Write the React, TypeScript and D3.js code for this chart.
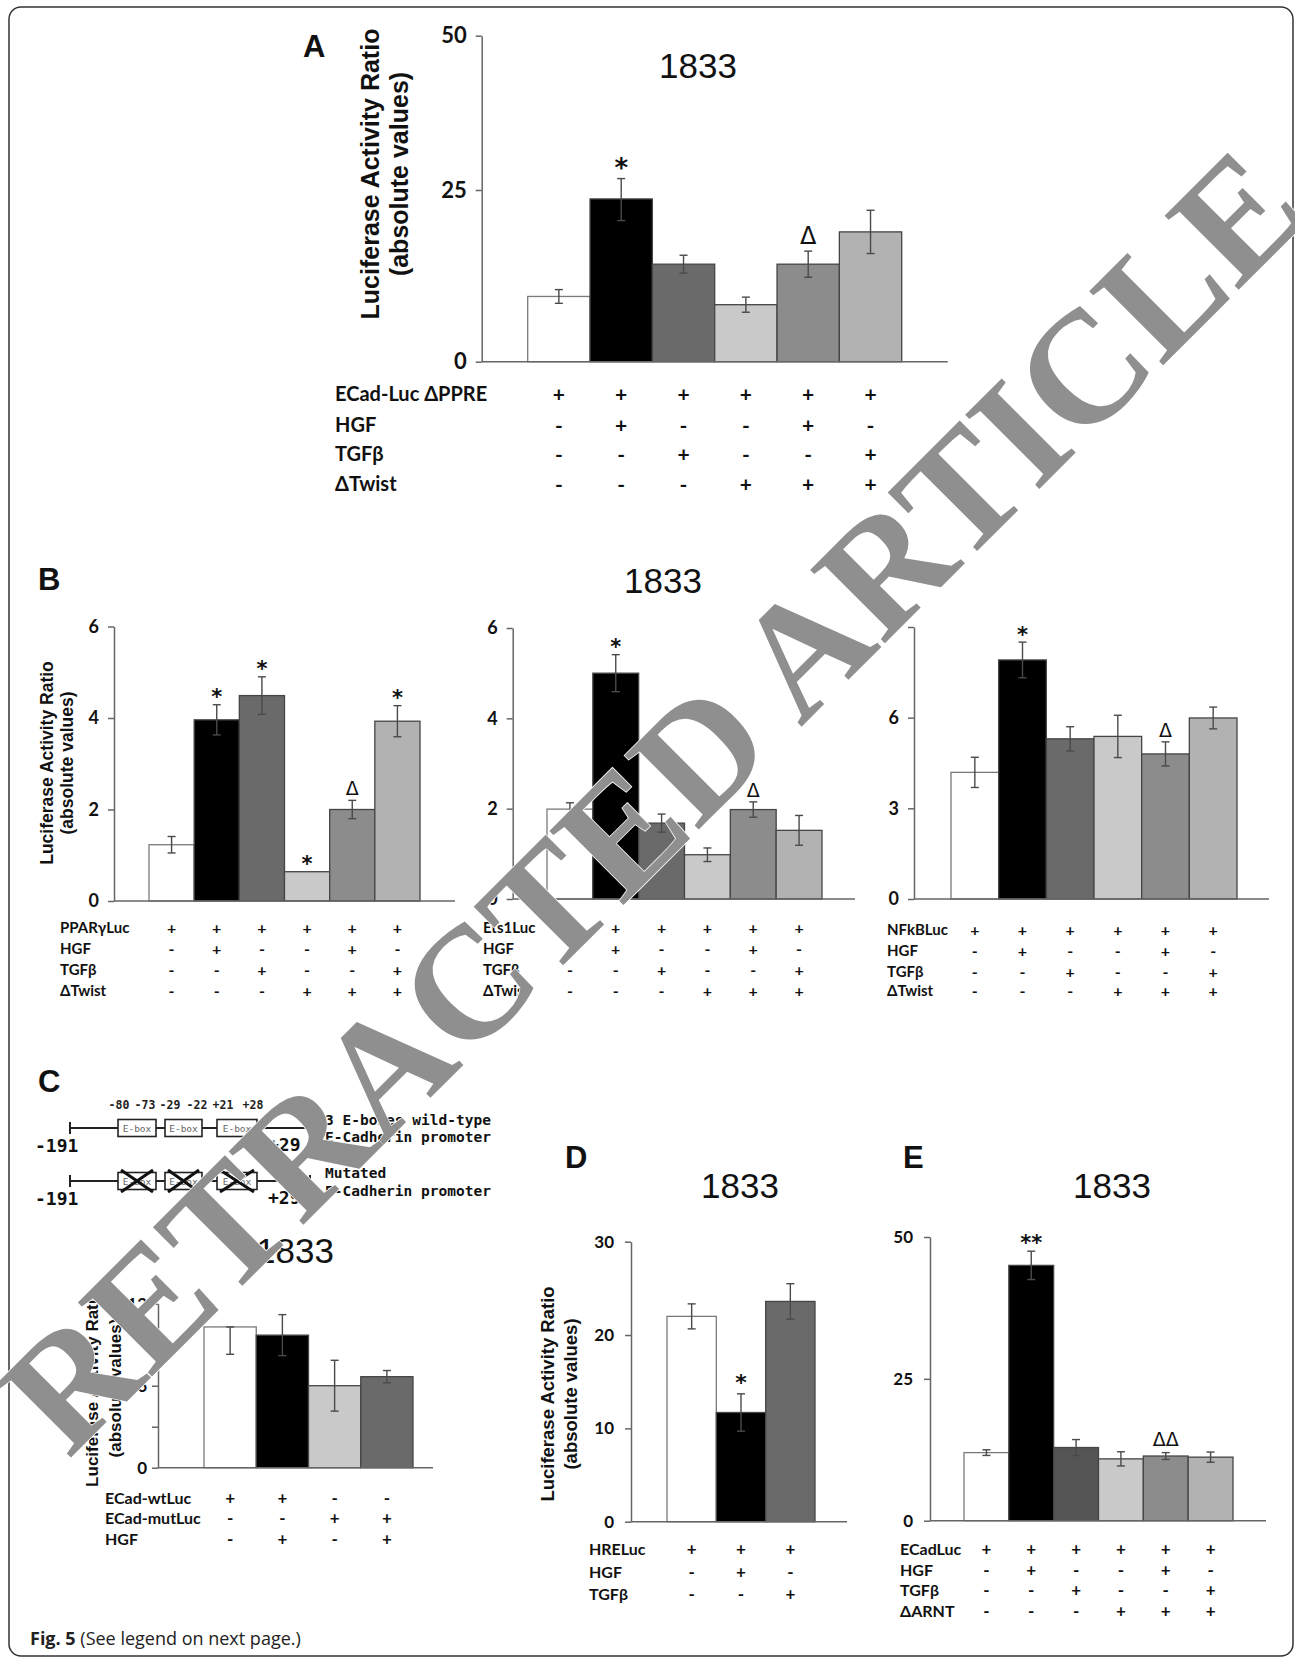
import React, { useRef, useEffect } from 'react'
import * as d3 from 'd3'

// ---- data ----
// panel A
const aValues = [9.5, 23.7, 14.2, 8.3, 14.2, 18.9]
const aErrors = [1.0, 3.15, 1.3, 1.1, 1.9, 3.15]
const aMarks = ['', '*', '', '', 'Δ', '']
const aTicks = [0, 25, 50]
const aRows = ['ECad-Luc ΔPPRE', 'HGF', 'TGFβ', 'ΔTwist']
const twistSigns = [
  ['+', '+', '+', '+', '+', '+'],
  ['-', '+', '-', '-', '+', '-'],
  ['-', '-', '+', '-', '-', '+'],
  ['-', '-', '-', '+', '+', '+'],
]
// panel B
const b1Values = [1.23, 3.96, 4.49, 0.64, 2.0, 3.93]
const b1Errors = [0.18, 0.33, 0.41, 0, 0.2, 0.34]
const b1Marks = ['', '*', '*', '*', 'Δ', '*']
const b1Rows = ['PPARγLuc', 'HGF', 'TGFβ', 'ΔTwist']
const b2Values = [1.99, 5.0, 1.68, 0.98, 1.98, 1.52]
const b2Errors = [0.14, 0.41, 0.2, 0.15, 0.17, 0.33]
const b2Marks = ['', '*', '', '', 'Δ', '']
const b2Rows = ['Ets1Luc', 'HGF', 'TGFβ', 'ΔTwist']
const b3Values = [4.19, 7.91, 5.3, 5.38, 4.8, 5.99]
const b3Errors = [0.5, 0.59, 0.4, 0.7, 0.4, 0.36]
const b3Marks = ['', '*', '', '', 'Δ', '']
const b3Rows = ['NFkBLuc', 'HGF', 'TGFβ', 'ΔTwist']
const bTicks = [0, 2, 4, 6]
const b3Ticks = [0, 3, 6, 9]
// panel C
const cValues = [10.3, 9.7, 6.0, 6.66]
const cErrLow = [2.0, 1.5, 1.86, 0.45]
const cErrHigh = [0, 1.5, 1.86, 0.45]
const cMarks = ['', '', '', '']
const cTicks = [0, 3, 6, 9, 12]
const cTickLabels = [0, 6, 12]
const cRows = ['ECad-wtLuc', 'ECad-mutLuc', 'HGF']
const cSigns = [
  ['+', '+', '-', '-'],
  ['-', '-', '+', '+'],
  ['-', '+', '-', '+'],
]
const eboxPositions = ['-80', '-73', '-29', '-22', '+21', '+28']
// panel D
const dValues = [22.0, 11.7, 23.6]
const dErrors = [1.34, 2.0, 1.9]
const dMarks = ['', '*', '']
const dTicks = [0, 10, 20, 30]
const dRows = ['HRELuc', 'HGF', 'TGFβ']
const dSigns = [
  ['+', '+', '+'],
  ['-', '+', '-'],
  ['-', '-', '+'],
]
// panel E
const eValues = [12.0, 45.0, 12.9, 10.9, 11.4, 11.2]
const eErrors = [0.5, 2.5, 1.4, 1.25, 0.6, 0.9]
const eMarks = ['', '**', '', '', 'ΔΔ', '']
const eTicks = [0, 25, 50]
const eRows = ['ECadLuc', 'HGF', 'TGFβ', 'ΔARNT']

const SANS = "'Liberation Sans', Arial, sans-serif"
const CAL = "Lato, 'Open Sans', sans-serif"
const MONO = "'DejaVu Sans Mono', monospace"
const SYM = "'DejaVu Sans', sans-serif"

const grays6 = ['#ffffff', '#000000', '#6a6a6a', '#c9c9c9', '#8c8c8c', '#b2b2b2']

function drawPanel(root: any, p: any) {
  const g = root.append('g')
  const n = p.values.length
  const y = d3.scaleLinear().domain(p.yDomain).range(p.yRange)
  const x = d3.scaleBand<number>().domain(d3.range(n)).range([p.barL, p.barR]).paddingInner(0)
  const labels = p.tickLabels || p.ticks

  // y axis
  const ax = g.append('g')
    .attr('transform', `translate(${p.axisX},0)`)
    .call(d3.axisLeft(y).tickValues(p.ticks).tickSize(6).tickSizeOuter(0).tickPadding(p.tickPad)
      .tickFormat((d: any) => labels.includes(d) ? String(d) : ''))
  ax.attr('font-family', CAL).attr('font-size', p.tickFont).attr('font-weight', 'bold')
  ax.select('.domain').attr('stroke', '#666').attr('stroke-width', 1.5)
  ax.selectAll('.tick line').attr('stroke', '#666').attr('stroke-width', 1.5)
  ax.selectAll('.tick text').attr('fill', '#111')

  // bars
  g.selectAll('rect.bar').data(p.values).join('rect')
    .attr('class', 'bar')
    .attr('x', (d: number, i: number) => x(i))
    .attr('y', (d: number) => y(d))
    .attr('width', x.bandwidth())
    .attr('height', (d: number) => y(0) - y(d))
    .attr('fill', (d: number, i: number) => p.colors[i])
    .attr('stroke', (d: number, i: number) => i === 0 ? '#7a7a7a' : '#454545')
    .attr('stroke-width', 1.3)

  // error bars
  const errUp = p.errHigh || p.errors
  p.values.forEach((v: number, i: number) => {
    const cx = (x(i) as number) + x.bandwidth() / 2
    const hi = v + errUp[i]
    const lo = v - p.errors[i]
    if (p.errors[i] === 0 && errUp[i] === 0) return
    const eg = g.append('g').attr('stroke', '#4a4a4a').attr('stroke-width', 1.4)
    eg.append('line').attr('x1', cx).attr('x2', cx).attr('y1', y(hi)).attr('y2', y(lo))
    eg.append('line').attr('x1', cx - 4).attr('x2', cx + 4).attr('y1', y(hi)).attr('y2', y(hi))
    eg.append('line').attr('x1', cx - 4).attr('x2', cx + 4).attr('y1', y(lo)).attr('y2', y(lo))
  })

  // x axis line
  g.append('line')
    .attr('x1', p.axisX).attr('x2', p.axisEnd)
    .attr('y1', y(0)).attr('y2', y(0))
    .attr('stroke', '#666').attr('stroke-width', 1.5)

  // significance marks
  p.marks.forEach((m: string, i: number) => {
    if (!m) return
    const cx = (x(i) as number) + x.bandwidth() / 2
    const c = y(p.values[i] + errUp[i]) - p.markGap
    const star = m.startsWith('*')
    const fs = star ? p.starFont : p.deltaFont
    g.append('text')
      .attr('x', cx)
      .attr('y', c + (star ? 0.55 : 0.36) * fs)
      .attr('text-anchor', 'middle')
      .attr('font-family', SYM)
      .attr('font-weight', star ? 'bold' : 'normal')
      .attr('font-size', fs)
      .attr('fill', '#111')
      .text(m)
  })

  // condition table
  p.rows.forEach((label: string, r: number) => {
    const ry = p.rowYs[r]
    g.append('text')
      .attr('x', p.rowX).attr('y', ry)
      .attr('dominant-baseline', 'central')
      .attr('font-family', CAL).attr('font-weight', 'bold').attr('font-size', p.rowFont)
      .attr('fill', '#111')
      .text(label)
    p.signs[r].forEach((s: string, i: number) => {
      g.append('text')
        .attr('x', (x(i) as number) + x.bandwidth() / 2).attr('y', ry)
        .attr('text-anchor', 'middle')
        .attr('dominant-baseline', 'central')
        .attr('font-family', CAL).attr('font-weight', 'bold').attr('font-size', p.rowFont + 1)
        .attr('fill', '#111')
        .text(s)
    })
  })

  // y title
  if (p.yTitle) {
    const t = p.yTitle
    ;[['Luciferase Activity Ratio', t.x1], ['(absolute values)', t.x2]].forEach(([s, xx]: any) => {
      g.append('text')
        .attr('transform', `translate(${xx},${t.cy}) rotate(-90)`)
        .attr('text-anchor', 'middle')
        .attr('dominant-baseline', 'central')
        .attr('font-family', SANS).attr('font-weight', 'bold').attr('font-size', t.size)
        .attr('fill', '#111')
        .text(s)
    })
  }
}

function title(root: any, x: number, y: number) {
  root.append('text')
    .attr('x', x).attr('y', y)
    .attr('text-anchor', 'middle').attr('dominant-baseline', 'central')
    .attr('font-family', SANS).attr('font-size', 35).attr('fill', '#111')
    .text('1833')
}

function letter(root: any, t: string, x: number, y: number) {
  root.append('text')
    .attr('x', x).attr('y', y)
    .attr('font-family', SANS).attr('font-weight', 'bold').attr('font-size', 31).attr('fill', '#111')
    .text(t)
}

function drawPromoter(root: any) {
  const g = root.append('g')
  const lineYs = [1128, 1181]
  const boxes = [[118, 156], [165, 202], [217, 257]]
  const labelXs = [119, 145, 170, 197, 223, 253]
  eboxPositions.forEach((s, i) => {
    g.append('text').attr('x', labelXs[i]).attr('y', 1109)
      .attr('text-anchor', 'middle').attr('font-family', MONO).attr('font-weight', 'bold')
      .attr('font-size', 11.5).attr('fill', '#222').text(s)
  })
  lineYs.forEach((yy, k) => {
    g.append('line').attr('x1', 70).attr('x2', 310).attr('y1', yy).attr('y2', yy)
      .attr('stroke', '#222').attr('stroke-width', 2)
    ;[70, 310].forEach(xx => {
      g.append('line').attr('x1', xx).attr('x2', xx).attr('y1', yy - 6).attr('y2', yy + 6)
        .attr('stroke', '#222').attr('stroke-width', 2)
    })
    boxes.forEach(([a, b]) => {
      g.append('rect').attr('x', a).attr('y', yy - 8.5).attr('width', b - a).attr('height', 17)
        .attr('fill', '#fff').attr('stroke', '#222').attr('stroke-width', 1.6)
      g.append('text').attr('x', (a + b) / 2).attr('y', yy).attr('text-anchor', 'middle')
        .attr('dominant-baseline', 'central').attr('font-family', MONO).attr('font-size', 9.5)
        .attr('fill', '#666').text('E-box')
      if (k === 1) {
        g.append('line').attr('x1', a + 3).attr('x2', b - 3).attr('y1', yy - 11).attr('y2', yy + 11)
          .attr('stroke', '#111').attr('stroke-width', 3)
        g.append('line').attr('x1', a + 3).attr('x2', b - 3).attr('y1', yy + 11).attr('y2', yy - 11)
          .attr('stroke', '#111').attr('stroke-width', 3)
      }
    })
    g.append('text').attr('x', 35).attr('y', yy + 24).attr('font-family', MONO).attr('font-weight', 'bold')
      .attr('font-size', 18).attr('fill', '#111').text('-191')
    g.append('text').attr('x', 268).attr('y', yy + 23).attr('font-family', MONO).attr('font-weight', 'bold')
      .attr('font-size', 18).attr('fill', '#111').text('+29')
  })
  const desc = [['3 E-boxes wild-type', 1125], ['E-Cadherin promoter', 1142], ['Mutated', 1178], ['E-Cadherin promoter', 1196]]
  desc.forEach(([s, yy]: any) => {
    g.append('text').attr('x', 325).attr('y', yy).attr('font-family', MONO).attr('font-weight', 'bold')
      .attr('font-size', 14.5).attr('fill', '#111').text(s)
  })
}

function App() {
  const svgRef = useRef<SVGSVGElement>(null)

  useEffect(() => {
    const svg = d3.select(svgRef.current)
    svg.selectAll('*').remove()
    const root = svg.append('g')

    // outer frame
    root.append('rect').attr('x', 9).attr('y', 7).attr('width', 1284).attr('height', 1649).attr('rx', 12)
      .attr('fill', '#fff').attr('stroke', '#333').attr('stroke-width', 1.5)

    // A
    letter(root, 'A', 303, 57)
    title(root, 698, 65)
    drawPanel(root, {
      values: aValues, errors: aErrors, marks: aMarks, colors: grays6,
      rows: aRows, signs: twistSigns,
      axisX: 481.7, axisEnd: 947.7, barL: 527.7, barR: 901.7,
      yDomain: [0, 25, 50], yRange: [361.7, 190, 35.7], ticks: aTicks,
      tickFont: 22, tickPad: 9, markGap: 16, starFont: 26, deltaFont: 24,
      rowX: 335, rowYs: [393, 424, 453, 483], rowFont: 20,
      yTitle: { x1: 370, x2: 399, cy: 174, size: 25 },
    })

    // B
    letter(root, 'B', 38, 590)
    title(root, 663, 580)
    const bCommon = { colors: grays6, signs: twistSigns, tickFont: 18, tickPad: 9, markGap: 12, starFont: 21, deltaFont: 19, rowFont: 15 }
    drawPanel(root, {
      ...bCommon, values: b1Values, errors: b1Errors, marks: b1Marks, rows: b1Rows,
      axisX: 114, axisEnd: 455, barL: 149, barR: 420,
      yDomain: [0, 6], yRange: [901, 626.5], ticks: bTicks,
      rowX: 60, rowYs: [927, 948, 969, 990],
      yTitle: { x1: 47, x2: 67, cy: 763, size: 17.5 },
    })
    drawPanel(root, {
      ...bCommon, values: b2Values, errors: b2Errors, marks: b2Marks, rows: b2Rows,
      axisX: 512.7, axisEnd: 855, barL: 547, barR: 822,
      yDomain: [0, 6], yRange: [899, 628], ticks: bTicks,
      rowX: 483, rowYs: [927, 948, 969, 990],
    })
    drawPanel(root, {
      ...bCommon, values: b3Values, errors: b3Errors, marks: b3Marks, rows: b3Rows,
      axisX: 914, axisEnd: 1269, barL: 951, barR: 1237,
      yDomain: [0, 9], yRange: [899, 627], ticks: b3Ticks,
      rowX: 887, rowYs: [929, 950, 971, 990],
    })

    // C
    letter(root, 'C', 38, 1092)
    drawPromoter(root)
    title(root, 295, 1250)
    drawPanel(root, {
      values: cValues, errors: cErrLow, errHigh: cErrHigh, marks: cMarks,
      colors: ['#ffffff', '#000000', '#c9c9c9', '#6a6a6a'],
      rows: cRows, signs: cSigns,
      axisX: 158, axisEnd: 433, barL: 204, barR: 413,
      yDomain: [0, 12], yRange: [1467.7, 1303.7], ticks: cTicks, tickLabels: cTickLabels,
      tickFont: 17, tickPad: 5, markGap: 13, starFont: 21, deltaFont: 19,
      rowX: 105, rowYs: [1497, 1517, 1538], rowFont: 16,
      yTitle: { x1: 92, x2: 115, cy: 1388, size: 17 },
    })

    // D
    letter(root, 'D', 565, 1168)
    title(root, 740, 1185)
    drawPanel(root, {
      values: dValues, errors: dErrors, marks: dMarks,
      colors: ['#ffffff', '#000000', '#6a6a6a'],
      rows: dRows, signs: dSigns,
      axisX: 631, axisEnd: 847, barL: 667, barR: 815,
      yDomain: [0, 30], yRange: [1521.7, 1241.7], ticks: dTicks,
      tickFont: 17, tickPad: 11, markGap: 16, starFont: 22, deltaFont: 19,
      rowX: 589, rowYs: [1548, 1571, 1593], rowFont: 16,
      yTitle: { x1: 547, x2: 570, cy: 1394, size: 18.5 },
    })

    // E
    letter(root, 'E', 903, 1168)
    title(root, 1112, 1185)
    drawPanel(root, {
      values: eValues, errors: eErrors, marks: eMarks,
      colors: ['#ffffff', '#000000', '#555555', '#c9c9c9', '#8c8c8c', '#b2b2b2'],
      rows: eRows, signs: twistSigns,
      axisX: 930, axisEnd: 1266, barL: 964, barR: 1233,
      yDomain: [0, 50], yRange: [1520.7, 1237], ticks: eTicks,
      tickFont: 17, tickPad: 11, markGap: 13, starFont: 21, deltaFont: 19,
      rowX: 900, rowYs: [1548, 1569, 1589, 1610], rowFont: 16,
    })

    // caption
    const cap = root.append('text').attr('x', 30).attr('y', 1645)
      .attr('font-family', "'Open Sans', sans-serif").attr('font-size', 18).attr('fill', '#222')
    cap.append('tspan').attr('font-weight', 'bold').text('Fig. 5')
    cap.append('tspan').text(' (See legend on next page.)')

    // retraction watermark
    root.append('text')
      .attr('transform', 'translate(652,800) rotate(-45)')
      .attr('text-anchor', 'middle').attr('dominant-baseline', 'central')
      .attr('font-family', "'Liberation Serif', 'Times New Roman', serif")
      .attr('font-weight', 'bold')
      .attr('font-size', 160)
      .attr('fill', '#8f8f8f')
      .attr('stroke', '#ffffff').attr('stroke-width', 1.5).attr('paint-order', 'stroke')
      .text('RETRACTED ARTICLE')
  }, [])

  return (
    <div style={{ position: 'absolute', left: 0, top: 0 }}>
      <svg ref={svgRef} width={1295} height={1659} style={{ display: 'block' }} />
    </div>
  )
}

export default App
